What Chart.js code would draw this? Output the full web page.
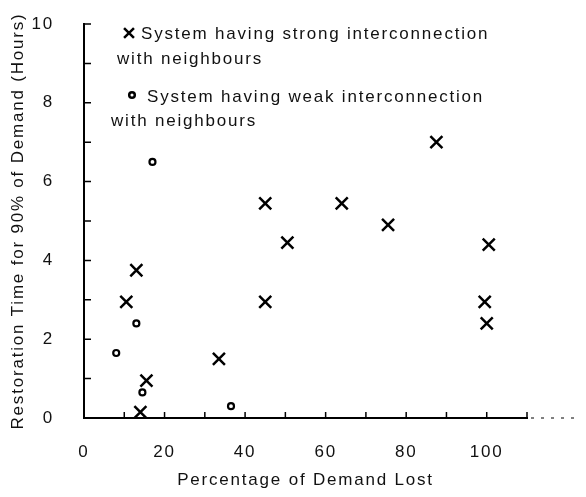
<!DOCTYPE html>
<html lang="en">
<head>
<meta charset="UTF-8">
<title>Restoration Time vs Demand Lost</title>
<script src="https://cdn.jsdelivr.net/npm/chart.js@4.4.1/dist/chart.umd.min.js"></script>
<style>
    body { margin: 0; background: #fff; }
    #wrap { width: 586px; height: 497px; }
</style>
</head>
<body>
<div id="wrap">
    <canvas id="restorationChart" width="586" height="497"></canvas>
</div>

<script>
// Data
var strongX = [10.5, 13, 15.5, 14, 33.5, 45, 45, 50.5, 64, 75.5, 87.5, 100.5, 99.5, 100];
var strongY = [2.95, 3.75, 0.95, 0.15, 1.5, 2.95, 5.45, 4.45, 5.45, 4.9, 7.0, 4.4, 2.95, 2.4];
var weakX = [8, 13, 14.5, 17, 36.5];
var weakY = [1.65, 2.4, 0.65, 6.5, 0.3];
var xTickLabels = [0, 20, 40, 60, 80, 100];
var yTickLabels = [0, 2, 4, 6, 8, 10];

var legendLines = [
    ['System having strong interconnection', 'with neighbours'],
    ['System having weak interconnection', 'with neighbours']
];

var FONT = '"Liberation Sans", Arial, Helvetica, sans-serif';
var SPACING = '1.8px';

function toPoints(xs, ys) {
    return xs.map(function (x, i) { return { x: x, y: ys[i] }; });
}

// loose letter spacing like the printed original
var spacingPlugin = {
    id: 'spacing',
    beforeDraw: function (chart) { chart.ctx.letterSpacing = SPACING; }
};

// inward tick marks and the dotted tail of the x axis
var tickPlugin = {
    id: 'inwardTicks',
    afterDraw: function (chart) {
        var c = chart.ctx, xs = chart.scales.x, ys = chart.scales.y;
        var x0 = xs.getPixelForValue(0), y0 = ys.getPixelForValue(0);
        c.save();
        c.strokeStyle = '#000';
        c.lineWidth = 1.5;
        c.beginPath();
        for (var v = 1; v <= 10; v++) {
            var py = ys.getPixelForValue(v);
            c.moveTo(x0, py); c.lineTo(x0 + 7, py);
        }
        for (var u = 10; u <= 110; u += 10) {
            var px = xs.getPixelForValue(u);
            c.moveTo(px, y0); c.lineTo(px, y0 - 6);
        }
        c.stroke();
        c.setLineDash([3, 7]);
        c.lineWidth = 1;
        c.beginPath();
        c.moveTo(xs.getPixelForValue(110) + 4, y0);
        c.lineTo(576, y0);
        c.stroke();
        c.restore();
    }
};

// legend drawn as two wrapped entries inside the plot
var legendPlugin = {
    id: 'wrappedLegend',
    afterDraw: function (chart) {
        var c = chart.ctx;
        var pos = [
            { mx: 129, my: 33, tx: 141, ty: 34, tx2: 117, ty2: 59, style: 'crossRot', r: 7, bw: 2.5 },
            { mx: 132, my: 95, tx: 147, ty: 97, tx2: 111, ty2: 121, style: 'circle', r: 2.8, bw: 2 }
        ];
        c.save();
        c.font = '17px ' + FONT;
        c.textBaseline = 'middle';
        c.strokeStyle = '#000';
        pos.forEach(function (p, i) {
            c.fillStyle = '#fff';
            Chart.helpers.drawPoint(c, { pointStyle: p.style, radius: p.r, borderWidth: p.bw }, p.mx, p.my);
            c.fillStyle = '#111';
            c.fillText(legendLines[i][0], p.tx, p.ty);
            c.fillText(legendLines[i][1], p.tx2, p.ty2);
        });
        c.restore();
    }
};

var ctx = document.getElementById('restorationChart').getContext('2d');

var chart = new Chart(ctx, {
    type: 'scatter',
    data: {
        datasets: [{
            label: 'System having strong interconnection with neighbours',
            data: toPoints(strongX, strongY),
            pointStyle: 'crossRot',
            radius: 8.5,
            borderWidth: 2.5,
            borderColor: '#000',
            backgroundColor: '#000'
        }, {
            label: 'System having weak interconnection with neighbours',
            data: toPoints(weakX, weakY),
            pointStyle: 'circle',
            radius: 3,
            borderWidth: 2.2,
            borderColor: '#000',
            backgroundColor: '#fff'
        }]
    },
    options: {
        responsive: false,
        animation: false,
        clip: false,
        layout: { padding: { top: 24, right: 59, left: 0, bottom: 0 } },
        plugins: {
            legend: { display: false },
            tooltip: { enabled: false }
        },
        scales: {
            x: {
                type: 'linear',
                min: 0,
                max: 110,
                afterFit: function (s) {
                    s.height = 79;
                    s.paddingLeft = 0;
                    s.paddingRight = 0;
                },
                border: { display: true, color: '#000', width: 2 },
                grid: { display: true, drawOnChartArea: false, drawTicks: false },
                ticks: {
                    stepSize: 10,
                    autoSkip: false,
                    maxRotation: 0,
                    padding: 24,
                    color: '#111',
                    font: { family: FONT, size: 17 },
                    callback: function (v) { return xTickLabels.indexOf(v) >= 0 ? String(v) : ''; }
                },
                title: {
                    display: true,
                    text: 'Percentage of Demand Lost',
                    color: '#111',
                    font: { family: FONT, size: 17 },
                    padding: { top: 0, bottom: 6 }
                }
            },
            y: {
                type: 'linear',
                min: 0,
                max: 10,
                afterFit: function (s) {
                    s.width = 84;
                    s.paddingTop = 0;
                    s.paddingBottom = 0;
                },
                border: { display: true, color: '#000', width: 2 },
                grid: { display: true, drawOnChartArea: false, drawTicks: false },
                ticks: {
                    stepSize: 1,
                    autoSkip: false,
                    padding: 30,
                    color: '#111',
                    font: { family: FONT, size: 17 },
                    callback: function (v) { return yTickLabels.indexOf(v) >= 0 ? String(v) : ''; }
                },
                title: {
                    display: true,
                    text: 'Restoration Time for 90% of Demand (Hours)',
                    color: '#111',
                    font: { family: FONT, size: 17 },
                    padding: { top: 8, bottom: 0 }
                }
            }
        }
    },
    plugins: [spacingPlugin, tickPlugin, legendPlugin]
});
</script>

</body>
</html>
